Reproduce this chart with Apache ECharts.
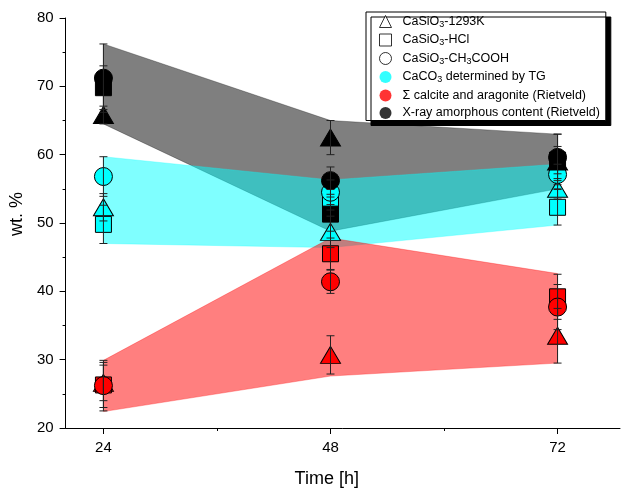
<!DOCTYPE html>
<html>
<head>
<meta charset="utf-8">
<script src="https://cdn.jsdelivr.net/npm/echarts@6/dist/echarts.min.js"></script>
<style>
  html, body { margin: 0; padding: 0; background: #fff; }
  #main { width: 622px; height: 493px; }
</style>
</head>
<body>
<div id="main"></div>
<script>
// time points
var hours = [24, 48, 72];

// X-ray amorphous content (Rietveld) - black
var amorTri = [65.8, 62.5, 59.0];
var amorTriErr = [1.3, 2.5, 4.0];
var amorSq = [69.8, 51.3, 59.2];
var amorSqErr = [3.2, 2.5, 2.0];
var amorCirc = [71.2, 56.2, 59.6];
var amorCircErr = [5.0, 2.0, 3.4];

// CaCO3 determined by TG - cyan
var tgTri = [52.3, 48.7, 55.0];
var tgTriErr = [2.0, 2.3, 1.5];
var tgSq = [49.8, 53.4, 52.3];
var tgSqErr = [2.8, 1.5, 2.6];
var tgCirc = [56.8, 54.5, 57.1];
var tgCircErr = [2.9, 1.8, 1.5];

// calcite + aragonite (Rietveld) - red
var rvTri = [26.6, 30.7, 33.5];
var rvTriErr = [2.6, 2.8, 4.0];
var rvSq = [26.3, 45.5, 39.2];
var rvSqErr = [3.3, 2.3, 3.3];
var rvCirc = [26.2, 41.4, 37.7];
var rvCircErr = [3.7, 1.7, 3.3];

// shaded ranges
var amorTop = [76.2, 65.0, 63.0];
var amorBottom = [64.5, 48.8, 55.0];
var tgTop = [59.7, 56.3, 58.6];
var tgBottom = [47.0, 46.4, 49.7];
var rvTop = [29.9, 47.8, 42.6];
var rvBottom = [22.4, 27.6, 29.5];

var legendNames = ['CaSiO3-1293K', 'CaSiO3-HCl', 'CaSiO3-CH3COOH',
  'CaCO3 determined by TG', '\u03A3 calcite and aragonite (Rietveld)',
  'X-ray amorphous content (Rietveld)'];
var legendIcons = ['triangle', 'rect', 'circle', 'circle', 'circle', 'circle'];
var legendFills = ['#fff', '#fff', '#fff', '#00ffff', '#ff0000', '#000000'];
var legendRich = {
  'CaSiO3-1293K': '{n|CaSiO}{s|3}{n|-1293K}',
  'CaSiO3-HCl': '{n|CaSiO}{s|3}{n|-HCl}',
  'CaSiO3-CH3COOH': '{n|CaSiO}{s|3}{n|-CH}{s|3}{n|COOH}',
  'CaCO3 determined by TG': '{n|CaCO}{s|3}{n| determined by TG}'
};

var font = 'Liberation Sans, Arial, sans-serif';
var myChart = echarts.init(document.getElementById('main'));

function pairs(ys) {
  return hours.map(function (h, i) { return [h, ys[i]]; });
}
function errData(ys, es) {
  return hours.map(function (h, i) { return [h, ys[i] - es[i], ys[i] + es[i]]; });
}

// filled band between two lines
function band(name, top, bottom, color) {
  return {
    name: name,
    type: 'custom',
    silent: true,
    z: 1,
    data: [0],
    renderItem: function (params, api) {
      var pts = [];
      for (var i = 0; i < hours.length; i++) pts.push(api.coord([hours[i], top[i]]));
      for (var j = hours.length - 1; j >= 0; j--) pts.push(api.coord([hours[j], bottom[j]]));
      return {
        type: 'polygon',
        shape: { points: pts },
        style: { fill: color, stroke: color, lineWidth: 0.6 }
      };
    }
  };
}

function errBars(name, ys, es) {
  return {
    name: name,
    type: 'custom',
    silent: true,
    z: 5,
    data: errData(ys, es),
    renderItem: function (params, api) {
      var x = api.value(0);
      var lo = api.coord([x, api.value(1)]);
      var hi = api.coord([x, api.value(2)]);
      var st = { stroke: '#222', lineWidth: 1 };
      return {
        type: 'group',
        children: [
          { type: 'line', shape: { x1: lo[0], y1: lo[1], x2: hi[0], y2: hi[1] }, style: st },
          { type: 'line', shape: { x1: lo[0] - 4, y1: lo[1], x2: lo[0] + 4, y2: lo[1] }, style: st },
          { type: 'line', shape: { x1: hi[0] - 4, y1: hi[1], x2: hi[0] + 4, y2: hi[1] }, style: st }
        ]
      };
    }
  };
}

function marks(name, ys, symbol, size, color) {
  return {
    name: name,
    type: 'scatter',
    symbol: symbol,
    symbolSize: size,
    z: 3,
    data: pairs(ys),
    itemStyle: { color: color, borderColor: '#000', borderWidth: 1, opacity: 1 }
  };
}

// legend-only series
function dummy(i) {
  return {
    name: legendNames[i],
    type: 'scatter',
    symbol: legendIcons[i],
    data: [],
    itemStyle: { color: legendFills[i], borderColor: '#000', borderWidth: i < 3 ? 1 : 0 }
  };
}

var TRI = [20, 17], SQ = 16, CIRC = 18;

var option = {
  animation: false,
  grid: { left: 63, right: 2, top: 18, bottom: 63 },
  xAxis: [{
    type: 'value',
    min: 20,
    max: 78.6,
    name: 'Time [h]',
    nameLocation: 'middle',
    nameGap: 42,
    nameTextStyle: { fontSize: 18, color: '#000', fontFamily: font, padding: [0, 32, 0, 0] },
    axisLine: { lineStyle: { color: '#000', width: 1 } },
    axisTick: { show: true, length: 6, customValues: [24, 48, 72], lineStyle: { color: '#000' } },
    axisLabel: { customValues: [24, 48, 72], fontSize: 15, color: '#000', fontFamily: font, margin: 12 },
    splitLine: { show: false }
  }, {
    // minor ticks
    type: 'value',
    position: 'bottom',
    min: 20,
    max: 78.6,
    axisLine: { show: false },
    axisTick: { show: true, length: 3, customValues: [36, 60], lineStyle: { color: '#000' } },
    axisLabel: { show: false },
    splitLine: { show: false }
  }],
  yAxis: {
    type: 'value',
    min: 20,
    max: 80,
    interval: 10,
    name: 'wt. %',
    nameLocation: 'middle',
    nameGap: 30,
    nameTextStyle: { fontSize: 18, color: '#000', fontFamily: font, padding: [0, 0, 0, 18] },
    axisLine: { show: true, lineStyle: { color: '#000', width: 1 } },
    axisTick: { show: true, length: 6, lineStyle: { color: '#000' } },
    minorTick: { show: true, splitNumber: 2, length: 3, lineStyle: { color: '#000' } },
    axisLabel: { fontSize: 15, color: '#000', fontFamily: font, margin: 12 },
    splitLine: { show: false }
  },
  legend: {
    orient: 'vertical',
    left: 366,
    top: 12,
    padding: [3, 6, 1, 13],
    itemGap: 4.5,
    itemWidth: 12,
    itemHeight: 12,
    backgroundColor: '#fff',
    borderColor: '#000',
    borderWidth: 1,
    shadowColor: '#000',
    shadowBlur: 0,
    shadowOffsetX: 5,
    shadowOffsetY: 5,
    data: legendNames.map(function (n, i) {
      return {
        name: n,
        icon: legendIcons[i],
        itemStyle: { color: legendFills[i], borderColor: '#000', borderWidth: i < 3 ? 1 : 0 }
      };
    }),
    formatter: function (name) {
      return legendRich[name] || '{n|' + name + '}';
    },
    textStyle: {
      color: '#000',
      fontFamily: font,
      padding: [0, 0, 0, 6],
      rich: {
        n: { fontSize: 12.5, lineHeight: 15, fontFamily: font, color: '#000' },
        s: { fontSize: 9, lineHeight: 9, verticalAlign: 'bottom', fontFamily: font, color: '#000' }
      }
    }
  },
  series: [
    band('amorBand', amorTop, amorBottom, 'rgba(0,0,0,0.5)'),
    band('tgBand', tgTop, tgBottom, 'rgba(0,255,255,0.5)'),
    band('rvBand', rvTop, rvBottom, 'rgba(255,0,0,0.5)'),

    marks('tgTri', tgTri, 'triangle', TRI, '#00ffff'),
    marks('tgSq', tgSq, 'rect', SQ, '#00ffff'),
    marks('tgCirc', tgCirc, 'circle', CIRC, '#00ffff'),
    marks('rvTri', rvTri, 'triangle', TRI, '#ff0000'),
    marks('rvSq', rvSq, 'rect', SQ, '#ff0000'),
    marks('rvCirc', rvCirc, 'circle', CIRC, '#ff0000'),
    marks('amorTri', amorTri, 'triangle', TRI, '#000000'),
    marks('amorSq', amorSq, 'rect', SQ, '#000000'),
    marks('amorCirc', amorCirc, 'circle', CIRC, '#000000'),

    errBars('tgTriE', tgTri, tgTriErr),
    errBars('tgSqE', tgSq, tgSqErr),
    errBars('tgCircE', tgCirc, tgCircErr),
    errBars('rvTriE', rvTri, rvTriErr),
    errBars('rvSqE', rvSq, rvSqErr),
    errBars('rvCircE', rvCirc, rvCircErr),
    errBars('amorTriE', amorTri, amorTriErr),
    errBars('amorSqE', amorSq, amorSqErr),
    errBars('amorCircE', amorCirc, amorCircErr),

    dummy(0), dummy(1), dummy(2), dummy(3), dummy(4), dummy(5)
  ]
};

myChart.setOption(option);
</script>
</body>
</html>
